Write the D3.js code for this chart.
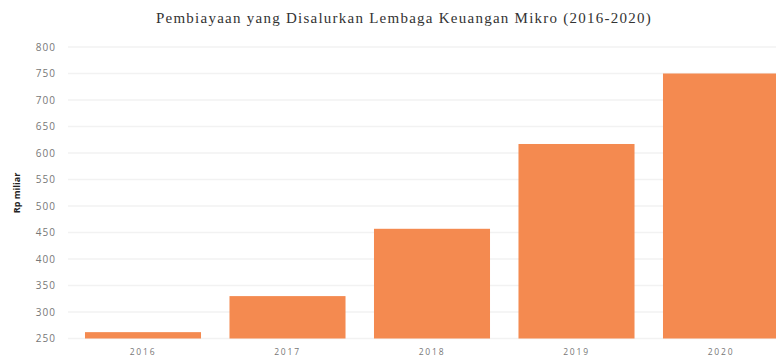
<!DOCTYPE html>
<html>
<head>
<meta charset="utf-8">
<script src="https://cdn.jsdelivr.net/npm/d3@7"></script>
<style>
  html, body { margin: 0; padding: 0; background: #fff; }
  svg { display: block; }
</style>
</head>
<body>
<svg id="chart" width="776" height="358"></svg>
<script>
// Financing disbursed by microfinance institutions, in billion rupiah
const years = ["2016", "2017", "2018", "2019", "2020"];
const financing = [262, 330, 457, 617, 750];
const yTicks = [250, 300, 350, 400, 450, 500, 550, 600, 650, 700, 750, 800];
const titleText = "Pembiayaan yang Disalurkan Lembaga Keuangan Mikro (2016-2020)";
const yAxisLabel = "Rp miliar";

const svg = d3.select("#chart");

const x = d3.scaleBand()
  .domain(years)
  .range([70.75, 793.25])
  .paddingInner(0.197)
  .paddingOuter(0.0985);

const y = d3.scaleLinear()
  .domain([250, 800])
  .range([338.5, 47]);

// Title
svg.append("text")
  .attr("x", 404)
  .attr("y", 23)
  .attr("text-anchor", "middle")
  .attr("font-family", "'Liberation Serif', 'Times New Roman', serif")
  .attr("font-size", 15)
  .attr("letter-spacing", 1.25)
  .attr("fill", "#333")
  .text(titleText);

// Horizontal grid lines
svg.append("g")
  .selectAll("line")
  .data(yTicks)
  .join("line")
  .attr("x1", 68)
  .attr("x2", 776)
  .attr("y1", d => y(d))
  .attr("y2", d => y(d))
  .attr("stroke", "#f2f2f2")
  .attr("stroke-width", 1.5);

// Y axis tick labels
const yAxis = d3.axisLeft(y).tickValues(yTicks).tickSize(0).tickPadding(0);
const gy = svg.append("g")
  .attr("transform", "translate(56,0)")
  .call(yAxis);
gy.select(".domain").remove();
gy.selectAll("text")
  .attr("font-family", "'Open Sans', sans-serif")
  .attr("font-size", 10)
  .attr("letter-spacing", 1)
  .attr("fill", "#777");

// Y axis title
svg.append("text")
  .attr("transform", "translate(20,193) rotate(-90)")
  .attr("text-anchor", "middle")
  .attr("font-family", "'Open Sans', sans-serif")
  .attr("font-weight", "bold")
  .attr("font-size", 9)
  .attr("fill", "#222")
  .text(yAxisLabel);

// Bars
svg.append("g")
  .selectAll("rect")
  .data(financing)
  .join("rect")
  .attr("x", (d, i) => x(years[i]))
  .attr("y", d => y(d))
  .attr("width", x.bandwidth())
  .attr("height", d => y(250) - y(d))
  .attr("fill", "#f48a50");

// X axis labels
const xAxis = d3.axisBottom(x).tickSize(0).tickPadding(0);
const gx = svg.append("g")
  .attr("transform", "translate(0,349)")
  .call(xAxis);
gx.select(".domain").remove();
gx.selectAll("text")
  .attr("font-family", "'Open Sans', sans-serif")
  .attr("font-size", 8.5)
  .attr("letter-spacing", 1.8)
  .attr("fill", "#777");
</script>
</body>
</html>
